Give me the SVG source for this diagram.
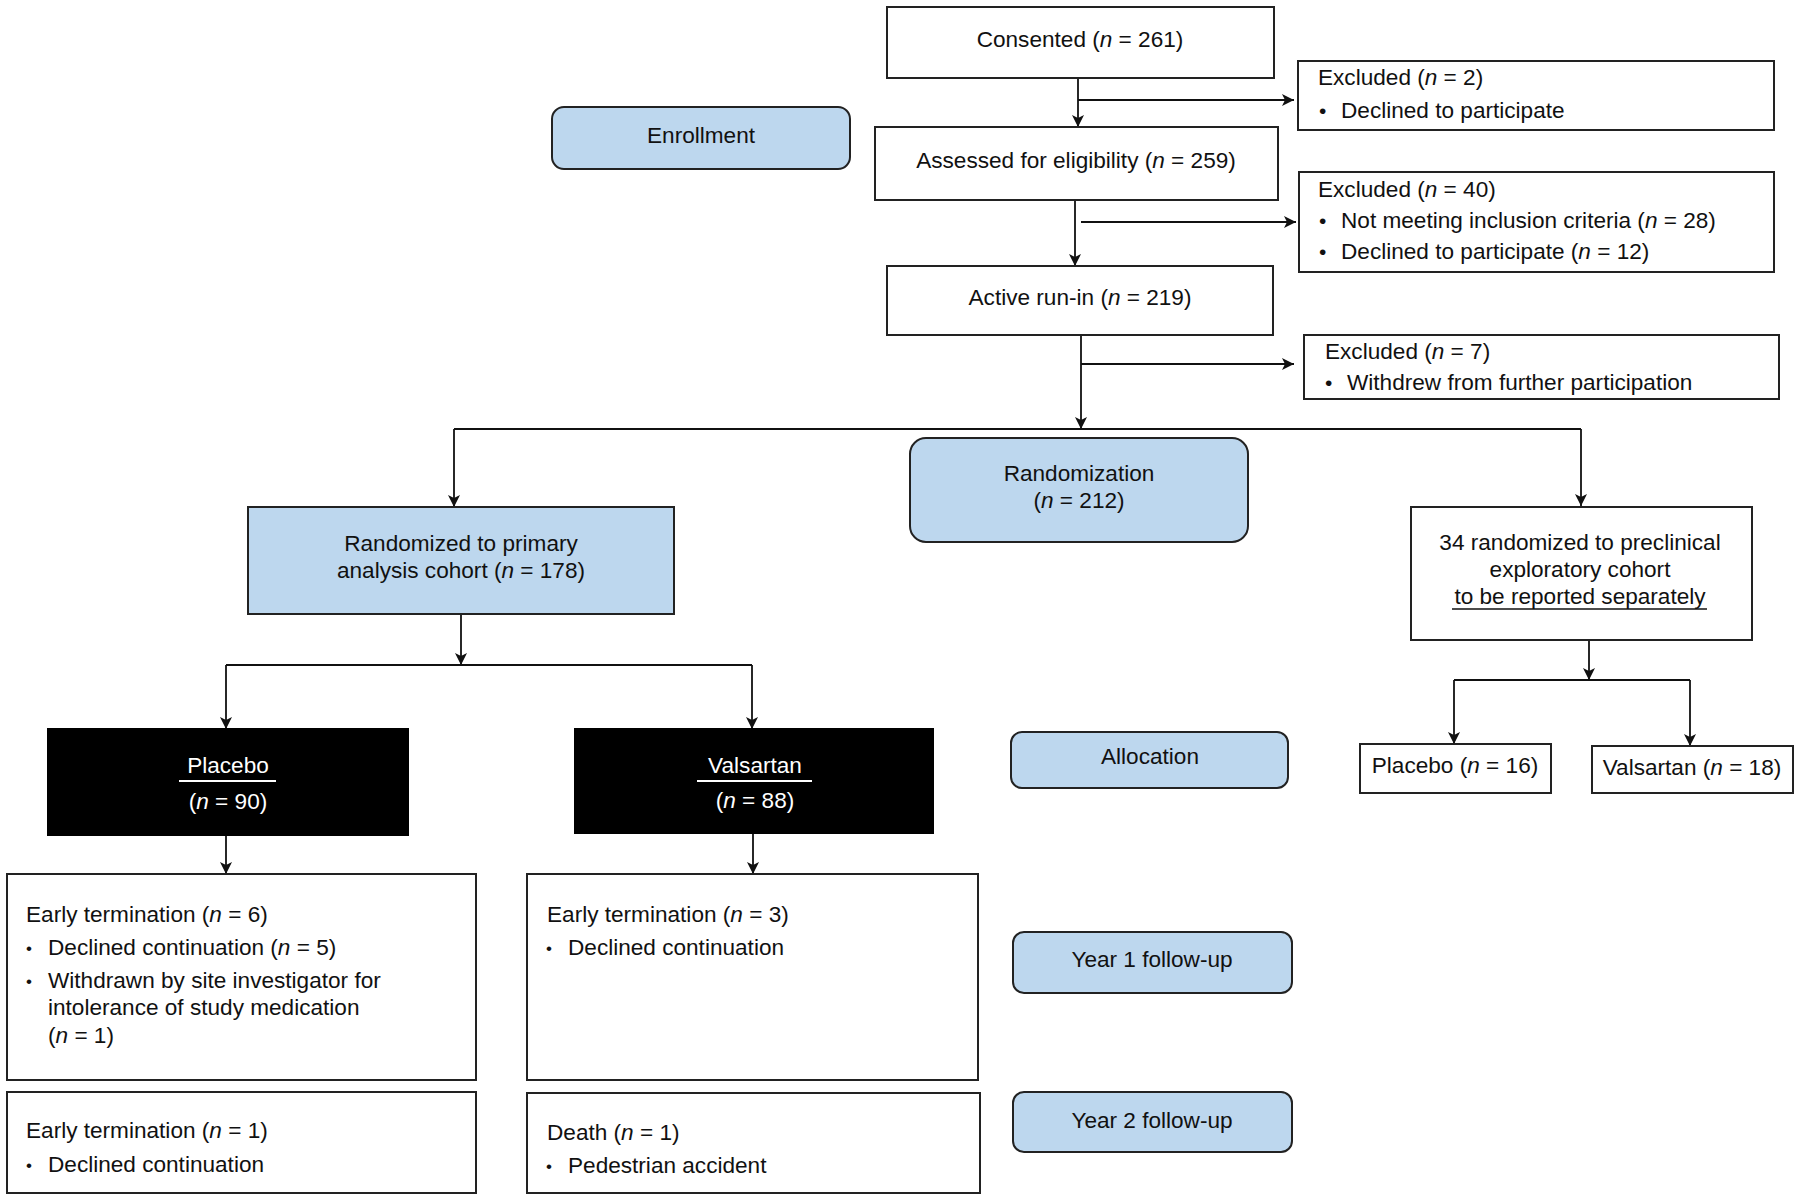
<svg xmlns="http://www.w3.org/2000/svg" width="1800" height="1199" viewBox="0 0 1800 1199">
<style>
text{font-family:"Liberation Sans",Arial,sans-serif;font-size:22.6px;fill:#111}
.c{text-anchor:middle}
.w{fill:#fff}
.i{font-style:italic}
.b{font-size:17px}
.bb{font-size:21px}
.box{fill:#fff;stroke:#222;stroke-width:2}
.blue{fill:#bdd7ee;stroke:#222;stroke-width:2}
.blk{fill:#000;stroke:#000;stroke-width:2}
.ln{fill:none;stroke:#111;stroke-width:1.8}
</style>
<defs>
<marker id="arr" viewBox="0 0 12 12" refX="12" refY="6" markerWidth="12" markerHeight="12" markerUnits="userSpaceOnUse" orient="auto">
<path d="M0,0 L12,6 L0,12 L3,6 Z" fill="#111"/>
</marker>
</defs>
<rect width="1800" height="1199" fill="#fff"/>

<g id="connectors">
<path class="ln" d="M1078,78 V127" marker-end="url(#arr)"/>
<path class="ln" d="M1078,100 H1294" marker-end="url(#arr)"/>
<path class="ln" d="M1075,200 V266" marker-end="url(#arr)"/>
<path class="ln" d="M1081,222 H1296" marker-end="url(#arr)"/>
<path class="ln" d="M1081,335 V429" marker-end="url(#arr)"/>
<path class="ln" d="M1081,364 H1294" marker-end="url(#arr)"/>
<path class="ln" d="M454,429 H1581"/>
<path class="ln" d="M454,429 V507" marker-end="url(#arr)"/>
<path class="ln" d="M1581,429 V506" marker-end="url(#arr)"/>
<path class="ln" d="M461,614 V665" marker-end="url(#arr)"/>
<path class="ln" d="M226,665 H752"/>
<path class="ln" d="M226,665 V729" marker-end="url(#arr)"/>
<path class="ln" d="M752,665 V729" marker-end="url(#arr)"/>
<path class="ln" d="M226,835 V874" marker-end="url(#arr)"/>
<path class="ln" d="M753,833 V874" marker-end="url(#arr)"/>
<path class="ln" d="M1589,640 V680" marker-end="url(#arr)"/>
<path class="ln" d="M1454,680 H1690"/>
<path class="ln" d="M1454,680 V744" marker-end="url(#arr)"/>
<path class="ln" d="M1690,680 V746" marker-end="url(#arr)"/>
</g>

<g id="consented">
<rect class="box" x="887" y="7" width="387" height="71"/>
<text class="c" x="1080" y="47">Consented (<tspan class="i">n</tspan> = 261)</text>
</g>
<g id="enrollment">
<rect class="blue" x="552" y="107" width="298" height="62" rx="12"/>
<text class="c" x="701" y="143">Enrollment</text>
</g>
<g id="excluded2">
<rect class="box" x="1298" y="61" width="476" height="69"/>
<text x="1318" y="85">Excluded (<tspan class="i">n</tspan> = 2)</text>
<text class="bb" x="1319" y="118">•</text>
<text x="1341" y="118">Declined to participate</text>
</g>
<g id="assessed">
<rect class="box" x="875" y="127" width="403" height="73"/>
<text class="c" x="1076" y="168">Assessed for eligibility (<tspan class="i">n</tspan> = 259)</text>
</g>
<g id="excluded40">
<rect class="box" x="1299" y="172" width="475" height="100"/>
<text x="1318" y="197">Excluded (<tspan class="i">n</tspan> = 40)</text>
<text class="bb" x="1319" y="228">•</text>
<text x="1341" y="228">Not meeting inclusion criteria (<tspan class="i">n</tspan> = 28)</text>
<text class="bb" x="1319" y="259">•</text>
<text x="1341" y="259">Declined to participate (<tspan class="i">n</tspan> = 12)</text>
</g>
<g id="runin">
<rect class="box" x="887" y="266" width="386" height="69"/>
<text class="c" x="1080" y="305">Active run-in (<tspan class="i">n</tspan> = 219)</text>
</g>
<g id="excluded7">
<rect class="box" x="1304" y="335" width="475" height="64"/>
<text x="1325" y="359">Excluded (<tspan class="i">n</tspan> = 7)</text>
<text class="bb" x="1325" y="390">•</text>
<text x="1347" y="390">Withdrew from further participation</text>
</g>
<g id="randomization">
<rect class="blue" x="910" y="438" width="338" height="104" rx="16"/>
<text class="c" x="1079" y="481">Randomization</text>
<text class="c" x="1079" y="508">(<tspan class="i">n</tspan> = 212)</text>
</g>
<g id="primary">
<rect class="blue" x="248" y="507" width="426" height="107"/>
<text class="c" x="461" y="551">Randomized to primary</text>
<text class="c" x="461" y="578">analysis cohort (<tspan class="i">n</tspan> = 178)</text>
</g>
<g id="preclinical">
<rect class="box" x="1411" y="507" width="341" height="133"/>
<text class="c" x="1580" y="550">34 randomized to preclinical</text>
<text class="c" x="1580" y="577">exploratory cohort</text>
<text class="c" x="1580" y="604">to be reported separately</text>
<line x1="1452" y1="609" x2="1707" y2="609" stroke="#111" stroke-width="1.5"/>
</g>
<g id="placebo">
<rect class="blk" x="48" y="729" width="360" height="106"/>
<text class="c w" x="228" y="773">Placebo</text>
<line x1="179" y1="781" x2="276" y2="781" stroke="#fff" stroke-width="2"/>
<text class="c w" x="228" y="809">(<tspan class="i">n</tspan> = 90)</text>
</g>
<g id="valsartan">
<rect class="blk" x="575" y="729" width="358" height="104"/>
<text class="c w" x="755" y="773">Valsartan</text>
<line x1="697" y1="781" x2="812" y2="781" stroke="#fff" stroke-width="2"/>
<text class="c w" x="755" y="808">(<tspan class="i">n</tspan> = 88)</text>
</g>
<g id="allocation">
<rect class="blue" x="1011" y="732" width="277" height="56" rx="11"/>
<text class="c" x="1150" y="764">Allocation</text>
</g>
<g id="placebo16">
<rect class="box" x="1360" y="744" width="191" height="49"/>
<text class="c" x="1455" y="773">Placebo (<tspan class="i">n</tspan> = 16)</text>
</g>
<g id="valsartan18">
<rect class="box" x="1592" y="746" width="201" height="47"/>
<text class="c" x="1692" y="775">Valsartan (<tspan class="i">n</tspan> = 18)</text>
</g>
<g id="placebo-y1">
<rect class="box" x="7" y="874" width="469" height="206"/>
<text x="26" y="922">Early termination (<tspan class="i">n</tspan> = 6)</text>
<text class="b" x="26" y="954">•</text>
<text x="48" y="955">Declined continuation (<tspan class="i">n</tspan> = 5)</text>
<text class="b" x="26" y="987">•</text>
<text x="48" y="988">Withdrawn by site investigator for</text>
<text x="48" y="1015">intolerance of study medication</text>
<text x="48" y="1043">(<tspan class="i">n</tspan> = 1)</text>
</g>
<g id="valsartan-y1">
<rect class="box" x="527" y="874" width="451" height="206"/>
<text x="547" y="922">Early termination (<tspan class="i">n</tspan> = 3)</text>
<text class="b" x="546" y="954">•</text>
<text x="568" y="955">Declined continuation</text>
</g>
<g id="year1">
<rect class="blue" x="1013" y="932" width="279" height="61" rx="11"/>
<text class="c" x="1152" y="967">Year 1 follow-up</text>
</g>
<g id="placebo-y2">
<rect class="box" x="7" y="1092" width="469" height="101"/>
<text x="26" y="1138">Early termination (<tspan class="i">n</tspan> = 1)</text>
<text class="b" x="26" y="1171">•</text>
<text x="48" y="1172">Declined continuation</text>
</g>
<g id="valsartan-y2">
<rect class="box" x="527" y="1093" width="453" height="100"/>
<text x="547" y="1140">Death (<tspan class="i">n</tspan> = 1)</text>
<text class="b" x="546" y="1172">•</text>
<text x="568" y="1173">Pedestrian accident</text>
</g>
<g id="year2">
<rect class="blue" x="1013" y="1092" width="279" height="60" rx="11"/>
<text class="c" x="1152" y="1128">Year 2 follow-up</text>
</g>
</svg>
